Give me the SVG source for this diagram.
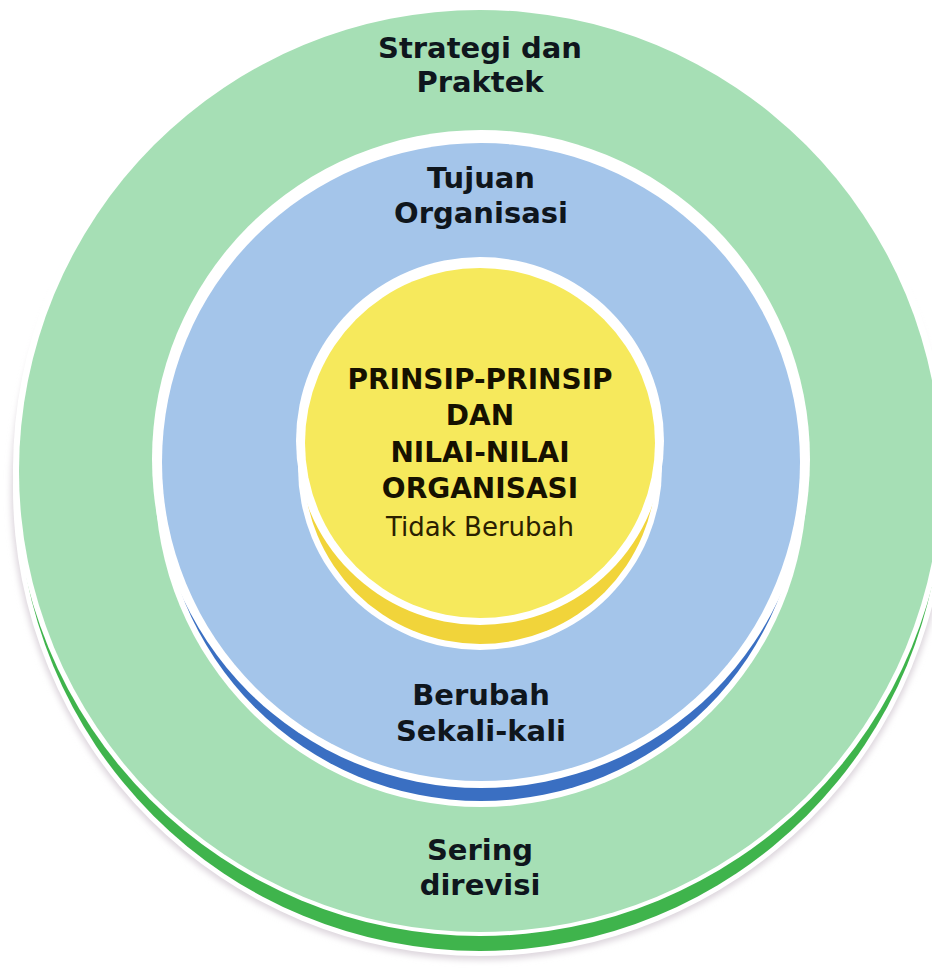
<svg xmlns="http://www.w3.org/2000/svg" width="932" height="973" viewBox="0 0 932 973">
  <defs>
    <filter id="soft" x="-10%" y="-10%" width="120%" height="120%">
      <feGaussianBlur stdDeviation="3"/>
    </filter>
  </defs>
  <style>
    .lbl { font-family: "DejaVu Sans", "Liberation Sans", sans-serif; font-weight: bold; font-size: 29px; text-anchor: middle; fill: #0f161d; }
    .core { font-family: "DejaVu Sans", "Liberation Sans", sans-serif; font-weight: bold; font-size: 28px; text-anchor: middle; fill: #161100; }
    .sub { font-family: "DejaVu Sans", "Liberation Sans", sans-serif; font-weight: normal; font-size: 26px; text-anchor: middle; fill: #2a2000; }
    .white { fill: #ffffff; }
  </style>
  <rect width="932" height="973" fill="#ffffff"/>

  <g id="outer-ring">
    <circle cx="480" cy="491" r="469" fill="#ddd6dd" filter="url(#soft)"/>
    <circle cx="480" cy="489" r="467" class="white"/>
    <circle cx="480" cy="489" r="462" fill="#3fb44c"/>
    <circle cx="480" cy="469" r="467" class="white"/>
    <circle cx="480" cy="471" r="461" fill="#a6dfb5"/>
    <text class="lbl" x="480" y="58">Strategi dan</text>
    <text class="lbl" x="480" y="92">Praktek</text>
    <text class="lbl" x="480" y="860">Sering</text>
    <text class="lbl" x="480" y="895">direvisi</text>
  </g>

  <g id="middle-ring">
    <circle cx="481" cy="481" r="326" class="white"/>
    <circle cx="481" cy="481" r="320" fill="#3a6fc2"/>
    <circle cx="481" cy="459" r="329" class="white"/>
    <circle cx="481" cy="462" r="319" fill="#a4c5ea"/>
    <text class="lbl" x="481" y="188">Tujuan</text>
    <text class="lbl" x="481" y="223">Organisasi</text>
    <text class="lbl" x="481" y="705">Berubah</text>
    <text class="lbl" x="481" y="741">Sekali-kali</text>
  </g>

  <g id="core">
    <circle cx="480" cy="468" r="182" class="white"/>
    <circle cx="480" cy="468" r="176" fill="#f1d43a"/>
    <circle cx="480" cy="441" r="184" class="white"/>
    <circle cx="480" cy="443" r="175" fill="#f6e95c"/>
    <text class="core" x="480" y="389">PRINSIP-PRINSIP</text>
    <text class="core" x="480" y="425">DAN</text>
    <text class="core" x="480" y="462">NILAI-NILAI</text>
    <text class="core" x="480" y="498">ORGANISASI</text>
    <text class="sub" x="480" y="536">Tidak Berubah</text>
  </g>
</svg>
